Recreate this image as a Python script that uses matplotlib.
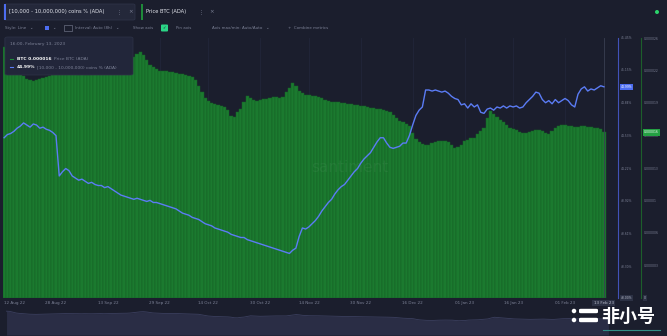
import pandas as pd
import matplotlib.pyplot as plt
import matplotlib.dates as mdates
from matplotlib.patches import FancyBboxPatch, Rectangle, Ellipse
from matplotlib.lines import Line2D

# Daily series, 12 Aug 2022 - 13 Feb 2023
dates = pd.date_range('2022-08-12', '2023-02-13', freq='D')

# ADA price in BTC, in millionths of a BTC
price_micro_btc = [
    24.7, 24.5, 23.6, 22.8, 22.4, 22.2, 21.9, 21.6, 21.5, 21.4,
    21.5, 21.6, 21.7, 21.8, 21.9, 22.0, 22.1, 22.1, 22.2, 22.2,
    22.2, 22.1, 22.1, 22.0, 22.1, 22.0, 22.0, 22.1, 22.1, 22.2,
    22.1, 22.2, 22.3, 22.3, 22.4, 22.5, 22.5, 22.6, 22.8, 23.2,
    23.7, 24.0, 24.2, 23.9, 23.4, 22.9, 22.7, 22.5, 22.4, 22.4,
    22.4, 22.3, 22.3, 22.2, 22.1, 22.1, 22.0, 21.9, 21.8, 21.5,
    20.9, 20.3, 19.7, 19.4, 19.2, 19.1, 19.0, 18.9, 18.8, 18.5,
    17.9, 17.8, 18.3, 18.6, 19.3, 19.9, 19.7, 19.5, 19.4, 19.5,
    19.6, 19.6, 19.7, 19.8, 19.8, 19.7, 19.8, 20.3, 20.7, 21.2,
    20.9, 20.4, 20.2, 20.0, 20.0, 19.9, 19.9, 19.8, 19.7, 19.5,
    19.4, 19.3, 19.3, 19.3, 19.2, 19.2, 19.1, 19.1, 19.0, 19.0,
    18.9, 18.9, 18.8, 18.7, 18.7, 18.6, 18.6, 18.5, 18.4, 18.3,
    18.0, 17.7, 17.4, 17.3, 17.1, 16.9, 16.2, 15.7, 15.4, 15.2,
    15.1, 15.1, 15.3, 15.4, 15.5, 15.5, 15.5, 15.4, 15.1, 14.8,
    14.9, 15.1, 15.5, 15.6, 15.8, 15.8, 16.1, 16.4, 16.7, 17.7,
    18.4, 18.1, 17.8, 17.5, 17.3, 17.0, 16.7, 16.6, 16.5, 16.3,
    16.2, 16.2, 16.3, 16.4, 16.5, 16.5, 16.4, 16.2, 16.1, 16.4,
    16.7, 16.9, 17.0, 17.0, 16.9, 16.9, 16.8, 16.8, 16.9, 16.9,
    16.8, 16.8, 16.7, 16.7, 16.6, 16.3,
]

# share of supply held by [10,000 - 10,000,000) coin addresses, %
holders_pct = [
    44.51, 44.54, 44.55, 44.57, 44.60, 44.62, 44.65, 44.63, 44.61, 44.64,
    44.63, 44.60, 44.61, 44.59, 44.58, 44.56, 44.53, 44.15, 44.19, 44.22,
    44.20, 44.15, 44.13, 44.11, 44.12, 44.10, 44.08, 44.09, 44.07, 44.06,
    44.06, 44.04, 44.05, 44.03, 44.01, 43.99, 43.97, 43.96, 43.95, 43.94,
    43.93, 43.94, 43.93, 43.92, 43.91, 43.92, 43.90, 43.90, 43.89, 43.88,
    43.87, 43.86, 43.85, 43.84, 43.82, 43.80, 43.79, 43.78, 43.76, 43.75,
    43.74, 43.72, 43.70, 43.69, 43.68, 43.66, 43.65, 43.64, 43.63, 43.62,
    43.60, 43.59, 43.58, 43.57, 43.57, 43.55, 43.54, 43.53, 43.52, 43.51,
    43.50, 43.49, 43.48, 43.47, 43.46, 43.45, 43.44, 43.43, 43.42, 43.45,
    43.47, 43.58, 43.66, 43.65, 43.67, 43.70, 43.73, 43.77, 43.82, 43.86,
    43.90, 43.93, 43.98, 44.02, 44.05, 44.07, 44.11, 44.15, 44.19, 44.22,
    44.27, 44.31, 44.34, 44.37, 44.42, 44.47, 44.51, 44.51, 44.46, 44.42,
    44.41, 44.42, 44.43, 44.46, 44.46, 44.53, 44.63, 44.72, 44.77, 44.80,
    44.96, 44.96, 44.95, 44.96, 44.95, 44.94, 44.95, 44.93, 44.90, 44.88,
    44.87, 44.82, 44.83, 44.79, 44.83, 44.80, 44.82, 44.75, 44.74, 44.78,
    44.79, 44.77, 44.80, 44.79, 44.81, 44.79, 44.81, 44.80, 44.81, 44.79,
    44.80, 44.84, 44.87, 44.90, 44.94, 44.93, 44.87, 44.84, 44.86, 44.83,
    44.87, 44.84, 44.86, 44.88, 44.86, 44.82, 44.80, 44.92, 44.97, 44.99,
    44.95, 44.97, 44.96, 44.98, 45.00, 44.99,
]

pct_ticks = [43.30, 43.61, 43.92, 44.22, 44.53, 44.84, 45.15, 45.45]
price_ticks = [3.2, 6.4, 9.6, 12.8, 16.0, 19.2, 22.4, 25.6]
x_tick_dates = ['2022-08-12', '2022-08-28', '2022-09-13', '2022-09-29',
                '2022-10-14', '2022-10-30', '2022-11-14', '2022-11-30',
                '2022-12-16', '2023-01-01', '2023-01-16', '2023-02-01']

BG = '#1b1e2d'
GREY = '#7d8297'
BLUE = '#5b7cf5'
GREEN = '#1b7a2f'

W, H = 667, 336


def fx(px):
    return px / W


def fy(py):
    return 1 - py / H


fig = plt.figure(figsize=(W / 100, H / 100), dpi=100)
fig.patch.set_facecolor(BG)

# main chart: price bars + holders line on a twin axis
ax_price = fig.add_axes([fx(2.5), fy(298), fx(606.5) - fx(2.5), fy(38) - fy(298)])
ax_price.set_facecolor(BG)
ax_price.bar(dates, price_micro_btc, width=1.0, color=GREEN,
             edgecolor='#156126', linewidth=0.35, zorder=2)
ax_price.set_xlim(dates[0] - pd.Timedelta(hours=12), dates[-1] + pd.Timedelta(hours=19))
ax_price.set_ylim(0, 25.6)
ax_price.axvline(dates[-1], color='#3a3f52', lw=0.6, zorder=3)
ax_price.grid(axis='x', color='#22263a', lw=0.6, zorder=0)

ax_price.text(0.575, 0.5, 'santiment', transform=ax_price.transAxes, fontsize=11,
              color='white', alpha=0.05, ha='center', va='center', zorder=4)

ax_pct = ax_price.twinx()
ax_pct.plot(dates, holders_pct, color=BLUE, lw=1.0, zorder=5)
ax_pct.set_ylim(43.0, 45.45)

for ax in (ax_price, ax_pct):
    for side in ('top', 'left', 'bottom'):
        ax.spines[side].set_visible(False)

# the two value axes sit to the right of the plot, each on its own line
ax_pct.spines['right'].set_position(('outward', 8.3))
ax_pct.spines['right'].set_color('#4152b8')
ax_pct.spines['right'].set_linewidth(0.8)
ax_price.spines['right'].set_visible(True)
ax_price.spines['right'].set_position(('outward', 24.8))
ax_price.spines['right'].set_color('#1c5f2b')
ax_price.spines['right'].set_linewidth(0.8)

ax_pct.set_yticks(pct_ticks)
ax_pct.set_yticklabels([f'{v:.2f}%' for v in pct_ticks])
ax_pct.tick_params(axis='y', length=0, pad=2.0, labelsize=2.2, colors=GREY)

ax_price.yaxis.tick_right()
ax_price.set_yticks(price_ticks)
ax_price.set_yticklabels([f'{v * 1e-6:.6f}'.rstrip('0') for v in price_ticks])
ax_price.tick_params(axis='y', length=0, pad=2.0, labelsize=2.2, colors=GREY)

ax_price.set_xticks(pd.to_datetime(x_tick_dates))
ax_price.xaxis.set_major_formatter(mdates.DateFormatter('%d %b %y'))
ax_price.tick_params(axis='x', length=0, pad=2.5, labelsize=3.0, colors=GREY)
ax_price.get_xticklabels()[0].set_ha('left')

# last-value markers on the axes
box = dict(boxstyle='square,pad=0.35', ec='none')
ax_pct.annotate(f'{holders_pct[-1]:.2f}%', xy=(1, holders_pct[-1]),
                xycoords=('axes fraction', 'data'), xytext=(10.2, 0),
                textcoords='offset points', ha='left', va='center', fontsize=2.2,
                color='white', bbox={**box, 'fc': '#4d6df0'}, annotation_clip=False)
ax_price.annotate(f'{price_micro_btc[-1] * 1e-6:.6f}', xy=(1, price_micro_btc[-1]),
                  xycoords=('axes fraction', 'data'), xytext=(26.8, 0),
                  textcoords='offset points', ha='left', va='center', fontsize=2.2,
                  color='white', bbox={**box, 'fc': '#24a043'}, annotation_clip=False)
ax_pct.annotate('43.00%', xy=(1, 43.0), xycoords=('axes fraction', 'data'),
                xytext=(10.2, 0), textcoords='offset points', ha='left', va='center',
                fontsize=2.2, color='#b8bccb', bbox={**box, 'fc': '#2c3144'},
                annotation_clip=False, zorder=8)
ax_price.annotate('0', xy=(1, 0), xycoords=('axes fraction', 'data'),
                  xytext=(26.8, 0), textcoords='offset points', ha='left', va='center',
                  fontsize=2.2, color='#b8bccb', bbox={**box, 'fc': '#2c3144'},
                  annotation_clip=False)
ax_price.annotate(dates[-1].strftime('%d %b %y'), xy=(dates[-1], 0),
                  xycoords=('data', 'axes fraction'), xytext=(0, -3.6),
                  textcoords='offset points', ha='center', va='center', fontsize=3.0,
                  color='#b8bccb', bbox={**box, 'fc': '#2c3144'}, annotation_clip=False)

# navigator strip
ax_nav = fig.add_axes([0, fy(335), 1, fy(308) - fy(335)])
ax_nav.set_facecolor('#1a1d2b')
ax_nav.fill_between(dates, price_micro_btc, 0, color='#2a2d45', lw=0)
ax_nav.plot(dates, price_micro_btc, color='#3b3f5e', lw=0.6)
ax_nav.set_xlim(dates[0] - pd.Timedelta(days=2), dates[-1] + pd.Timedelta(days=18))
ax_nav.set_ylim(0, 28)
ax_nav.axis('off')
fig.add_artist(Line2D([fx(603), fx(660)], [fy(330), fy(330)], color='#2f8f86', lw=0.8))

# toolbar
fig.add_artist(FancyBboxPatch((fx(4), fy(20)), fx(135) - fx(4), fy(4) - fy(20),
                              boxstyle='round,pad=0,rounding_size=0.003',
                              fc='#24283a', ec='#30354a', lw=0.5))
fig.add_artist(Rectangle((fx(4), fy(20)), fx(2), fy(4) - fy(20), fc='#4d6df0', ec='none'))
fig.add_artist(Rectangle((fx(141), fy(20)), fx(1.5), fy(4) - fy(20), fc='#1f8a3a', ec='none'))
fig.text(fx(9), fy(12), '[10,000 - 10,000,000) coins % (ADA)', fontsize=3.7,
         color='#e4e6ee', va='center')
fig.text(fx(117), fy(12), '⋮', fontsize=4, color=GREY, va='center')
fig.text(fx(128), fy(12), '×', fontsize=4, color=GREY, va='center')
fig.text(fx(146), fy(12), 'Price BTC (ADA)', fontsize=3.7, color='#e4e6ee', va='center')
fig.text(fx(199), fy(12), '⋮', fontsize=4, color=GREY, va='center')
fig.text(fx(209), fy(12), '×', fontsize=4, color=GREY, va='center')
fig.add_artist(Ellipse((fx(657), fy(12)), fx(4), 4 / H, fc='#2bd46b', ec='none'))

opts_y = fy(28)
fig.text(fx(5), opts_y, 'Style: Line   ⌄', fontsize=2.9, color=GREY, va='center')
fig.add_artist(Rectangle((fx(45), fy(30)), fx(4), 4 / H, fc='#4d6df0', ec='none'))
fig.text(fx(52), opts_y, '⌄', fontsize=2.9, color=GREY, va='center')
fig.add_artist(Rectangle((fx(64), fy(31)), fx(8), 6 / H, fc='none', ec=GREY, lw=0.4))
fig.text(fx(75), opts_y, 'Interval: Auto (8h)   ⌄', fontsize=2.9, color=GREY, va='center')
fig.text(fx(133), opts_y, 'Show axis', fontsize=2.9, color=GREY, va='center')
fig.add_artist(FancyBboxPatch((fx(161), fy(31.5)), fx(7), 7 / H,
                              boxstyle='round,pad=0,rounding_size=0.002',
                              fc='#2bd486', ec='none'))
fig.text(fx(162), opts_y, '✓', fontsize=3, color=BG, va='center')
fig.text(fx(176), opts_y, 'Pin axis', fontsize=2.9, color=GREY, va='center')
fig.text(fx(212), opts_y, 'Axis max/min: Auto/Auto   ⌄', fontsize=2.9, color=GREY, va='center')
fig.text(fx(288), opts_y, '+  Combine metrics', fontsize=2.9, color=GREY, va='center')

# hover tooltip
fig.add_artist(FancyBboxPatch((fx(5), fy(75)), fx(133) - fx(5), fy(37) - fy(75),
                              boxstyle='round,pad=0,rounding_size=0.004',
                              fc='#22263a', ec='#2e3347', lw=0.5, zorder=10))
fig.text(fx(10), fy(44), '16:00, February 13, 2023', fontsize=3.2, color=GREY,
         va='center', zorder=11)
fig.add_artist(Line2D([fx(10), fx(13)], [fy(59), fy(59)], color='#1f8a3a', lw=0.8, zorder=11))
fig.text(fx(17), fy(59), f'BTC {price_micro_btc[-1] * 1e-6:.6f}', fontsize=3.2,
         color='white', weight='bold', va='center', zorder=11)
fig.text(fx(54), fy(59), 'Price BTC (ADA)', fontsize=3.2, color=GREY, va='center', zorder=11)
fig.add_artist(Line2D([fx(10), fx(13)], [fy(67), fy(67)], color=BLUE, lw=0.8, zorder=11))
fig.text(fx(17), fy(67), f'{holders_pct[-1]:.2f}%', fontsize=3.2, color='white',
         weight='bold', va='center', zorder=11)
fig.text(fx(37), fy(67), '[10,000 - 10,000,000) coins % (ADA)', fontsize=3.2,
         color=GREY, va='center', zorder=11)

# site mark, bottom right
for row_y in (311, 320):
    fig.add_artist(Ellipse((fx(574), fy(row_y)), fx(4.5), 4.5 / H, fc='white', ec='none', zorder=12))
    fig.add_artist(FancyBboxPatch((fx(579), fy(row_y + 2.2)), fx(19), 4.4 / H,
                                  boxstyle='round,pad=0,rounding_size=0.003',
                                  fc='white', ec='none', zorder=12))
fig.text(fx(601), fy(316), '非小号', fontsize=13, color='white', weight='bold',
         va='center', family=['Noto Sans CJK SC', 'DejaVu Sans'], zorder=12)

fig.savefig('out.png', dpi=100, facecolor=BG)
